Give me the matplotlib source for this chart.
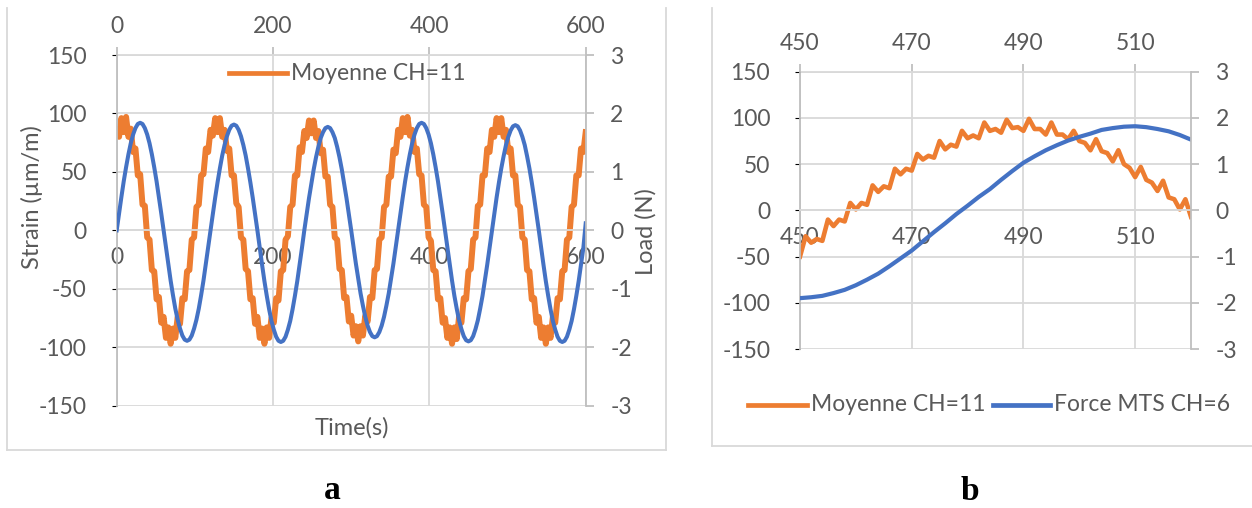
import matplotlib
matplotlib.use("Agg")
import matplotlib.pyplot as plt
from matplotlib.lines import Line2D

# ---------------- data ----------------
# Panel a : whole test (sampled every 3 s)
time_a = list(range(0, 601, 3))
strain_a = [
    86, 80, 96, 84, 97, 80, 87, 67, 70, 47, 48, 22, 21, -6, -8, -34, -35, -59, -57, -79,
    -74, -92, -83, -97, -84, -92, -74, -80, -58, -59, -35, -34, -8, -6, 20, 22, 47, 48, 70, 67,
    86, 81, 96, 84, 96, 80, 86, 68, 70, 47, 47, 23, 20, -6, -8, -33, -35, -59, -58, -80,
    -74, -92, -84, -97, -83, -92, -75, -79, -58, -60, -35, -34, -8, -5, 20, 22, 47, 47, 71, 67,
    85, 79, 94, 83, 94, 79, 85, 66, 69, 46, 46, 22, 20, -6, -8, -33, -34, -58, -57, -78,
    -73, -90, -82, -95, -82, -90, -73, -78, -57, -58, -34, -33, -8, -6, 20, 22, 46, 46, 69, 66,
    86, 80, 96, 84, 97, 81, 86, 67, 70, 48, 47, 22, 20, -6, -9, -34, -35, -59, -58, -79,
    -75, -92, -83, -97, -83, -93, -74, -79, -58, -59, -35, -33, -8, -6, 21, 22, 47, 47, 70, 67,
    86, 80, 96, 84, 96, 80, 86, 67, 70, 47, 47, 22, 20, -6, -8, -34, -35, -59, -58, -79,
    -74, -92, -83, -97, -83, -92, -74, -79, -58, -59, -35, -34, -8, -6, 20, 22, 47, 47, 70, 67,
    84,
]
load_a = [
    0, .29, .57, .84, 1.08, 1.30, 1.49, 1.64, 1.75, 1.82, 1.84, 1.82, 1.75, 1.64, 1.49, 1.30, 1.08, .84, .57, .29,
    0, -.29, -.58, -.86, -1.11, -1.34, -1.53, -1.68, -1.80, -1.87, -1.89, -1.87, -1.80, -1.68, -1.53, -1.34, -1.11, -.86, -.58, -.29,
    0, .28, .56, .82, 1.06, 1.28, 1.46, 1.61, 1.72, 1.79, 1.81, 1.79, 1.72, 1.61, 1.46, 1.28, 1.06, .82, .56, .28,
    0, -.30, -.59, -.87, -1.12, -1.35, -1.55, -1.70, -1.82, -1.89, -1.91, -1.89, -1.82, -1.70, -1.55, -1.35, -1.12, -.87, -.59, -.30,
    0, .28, .55, .80, 1.04, 1.25, 1.43, 1.58, 1.68, 1.75, 1.77, 1.75, 1.68, 1.58, 1.43, 1.25, 1.04, .80, .55, .28,
    0, -.29, -.57, -.83, -1.08, -1.29, -1.48, -1.63, -1.74, -1.81, -1.83, -1.81, -1.74, -1.63, -1.48, -1.29, -1.08, -.83, -.57, -.29,
    0, .29, .57, .84, 1.08, 1.30, 1.49, 1.64, 1.75, 1.82, 1.84, 1.82, 1.75, 1.64, 1.49, 1.30, 1.08, .84, .57, .29,
    0, -.30, -.59, -.86, -1.12, -1.34, -1.54, -1.69, -1.81, -1.88, -1.90, -1.88, -1.81, -1.69, -1.54, -1.34, -1.12, -.86, -.59, -.30,
    0, .28, .56, .82, 1.06, 1.27, 1.46, 1.60, 1.71, 1.78, 1.80, 1.78, 1.71, 1.60, 1.46, 1.27, 1.06, .82, .56, .28,
    0, -.30, -.59, -.87, -1.12, -1.35, -1.55, -1.70, -1.82, -1.89, -1.91, -1.89, -1.82, -1.70, -1.55, -1.35, -1.12, -.87, -.59, -.30,
    0.12,
]

# Panel b : zoom 450-520 s
time_b_strain = list(range(450, 521))
strain_b = [
    -50, -28, -35, -31, -33, -10, -17, -10, -12, 8, 1, 8, 6, 27, 20, 26, 24, 45, 39, 45,
    43, 61, 55, 59, 57, 75, 66, 71, 69, 86, 78, 81, 78, 95, 86, 88, 84, 98, 89, 90,
    86, 99, 88, 88, 82, 95, 82, 82, 77, 86, 75, 73, 65, 77, 64, 62, 53, 65, 50, 46,
    36, 47, 33, 30, 21, 32, 14, 12, 1, 12, -7,
]
time_b_load = list(range(450, 521, 2))
load_b = [
    -1.90, -1.88, -1.85, -1.79, -1.72, -1.62, -1.50, -1.37, -1.21, -1.04,
    -0.87, -0.67, -0.47, -0.28, -0.08, 0.10, 0.29, 0.46, 0.66, 0.85,
    1.03, 1.17, 1.30, 1.41, 1.51, 1.59, 1.66, 1.74, 1.78, 1.81,
    1.82, 1.80, 1.76, 1.71, 1.63, 1.53,
]

strain_ticks = [-150, -100, -50, 0, 50, 100, 150]
load_ticks = [-3, -2, -1, 0, 1, 2, 3]
xticks_a = [0, 200, 400, 600]
xticks_b = [450, 470, 490, 510]
name_strain = "Moyenne CH=11"
name_load = "Force MTS CH=6"

# ---------------- style ----------------
plt.rcParams["font.family"] = ["Lato", "DejaVu Sans"]
plt.rcParams["axes.unicode_minus"] = False
ORANGE = "#ED7D31"
BLUE = "#4472C4"
GRID = "#D9D9D9"
AXIS = "#BFBFBF"
TICK = "#595959"
FS = 16.5

W, H = 1252, 508
fig = plt.figure(figsize=(W / 100, H / 100), dpi=100)


def fx(x):
    return x / W


def fy(y):
    return 1 - y / H


def rect(x0, y0, x1, y1):
    return [fx(x0), fy(y1), fx(x1) - fx(x0), fy(y0) - fy(y1)]


def panel(r, xlim, xticks):
    ax = fig.add_axes(r)
    ax.set_xlim(*xlim)
    ax.set_ylim(-150, 150)
    ax.set_yticks(strain_ticks)
    ax.set_xticks(xticks)
    ax.grid(True, color=GRID, lw=1.3)
    ax.set_axisbelow(True)
    ax.spines["top"].set_visible(False)
    ax.spines["right"].set_visible(False)
    ax.spines["bottom"].set_position(("data", 0))
    ax.spines["bottom"].set_color(GRID)
    ax.spines["bottom"].set_linewidth(1.3)
    ax.spines["left"].set_color(AXIS)
    ax.spines["left"].set_linewidth(1.3)
    ax.tick_params(axis="y", left=False, pad=18, labelsize=FS, labelcolor=TICK)
    ax.tick_params(axis="x", bottom=True, length=0, pad=12, labelsize=FS, labelcolor=TICK)
    ax2 = ax.twinx()
    ax2.set_ylim(-3, 3)
    ax2.set_yticks(load_ticks)
    for s in ["top", "left", "bottom"]:
        ax2.spines[s].set_visible(False)
    ax2.spines["right"].set_color(AXIS)
    ax2.spines["right"].set_linewidth(1.3)
    ax2.tick_params(axis="y", direction="out", length=5.6, width=1.3, color=AXIS,
                    pad=12, labelsize=FS, labelcolor=TICK)
    sec = ax.secondary_xaxis("top")
    sec.set_xticks(xticks)
    sec.spines["top"].set_color(GRID)
    sec.spines["top"].set_linewidth(1.3)
    sec.tick_params(direction="out", length=6, width=1.3, color=AXIS, pad=7,
                    labelsize=FS, labelcolor=TICK)
    return ax, ax2


# panel a
axa, axa2 = panel(rect(116.7, 55, 585.7, 405.7), (0, 600), xticks_a)
axa.plot(time_a, strain_a, color=ORANGE, lw=4.3)
axa2.plot(time_a, load_a, color=BLUE, lw=2.9)

# panel b
axb, axb2 = panel(rect(800, 71.7, 1191, 349), (450, 520), xticks_b)
axb.plot(time_b_strain, strain_b, color=ORANGE, lw=3.3)
axb2.plot(time_b_load, load_b, color=BLUE, lw=3.0)

# axis titles (panel a)
fig.text(fx(31.7), fy(197), "Strain (\u00b5m/m)", rotation=90, ha="center", va="center",
         fontsize=17, color=TICK)
fig.text(fx(646), fy(232), "Load (N)", rotation=90, ha="center", va="center",
         fontsize=17, color=TICK)
fig.text(fx(352), fy(428), "Time(s)", ha="center", va="center", fontsize=17, color=TICK)

# legends
fig.add_artist(Line2D([fx(229), fx(287)], [fy(73), fy(73)], transform=fig.transFigure,
                      color=ORANGE, lw=3.4))
fig.text(fx(291), fy(73), name_strain, ha="left", va="center", fontsize=FS, color=TICK)
fig.add_artist(Line2D([fx(748), fx(807)], [fy(404.5), fy(404.5)], transform=fig.transFigure,
                      color=ORANGE, lw=3.4))
fig.text(fx(811), fy(404.5), name_strain, ha="left", va="center", fontsize=FS, color=TICK)
fig.add_artist(Line2D([fx(993), fx(1050)], [fy(404.5), fy(404.5)], transform=fig.transFigure,
                      color=BLUE, lw=3.4))
fig.text(fx(1054), fy(404.5), name_load, ha="left", va="center", fontsize=FS, color=TICK)

# panel frames
BORDER = "#D9D9D9"
for xs, ys in [([7, 7], [8, 450]), ([7, 666], [450, 450]), ([666, 666], [8, 450]),
               ([711.5, 711.5], [8, 446]), ([711.5, 1252], [446, 446])]:
    fig.add_artist(Line2D([fx(v) for v in xs], [fy(v) for v in ys],
                          transform=fig.transFigure, color=BORDER, lw=1.3))

# captions
fig.text(fx(332), fy(499), "a", ha="center", va="baseline", fontsize=24,
         family=["Liberation Serif", "DejaVu Serif"], weight="bold", color="black")
fig.text(fx(969.5), fy(500), "b", ha="center", va="baseline", fontsize=24,
         family=["Liberation Serif", "DejaVu Serif"], weight="bold", color="black")

fig.savefig("out.png", dpi=100)
